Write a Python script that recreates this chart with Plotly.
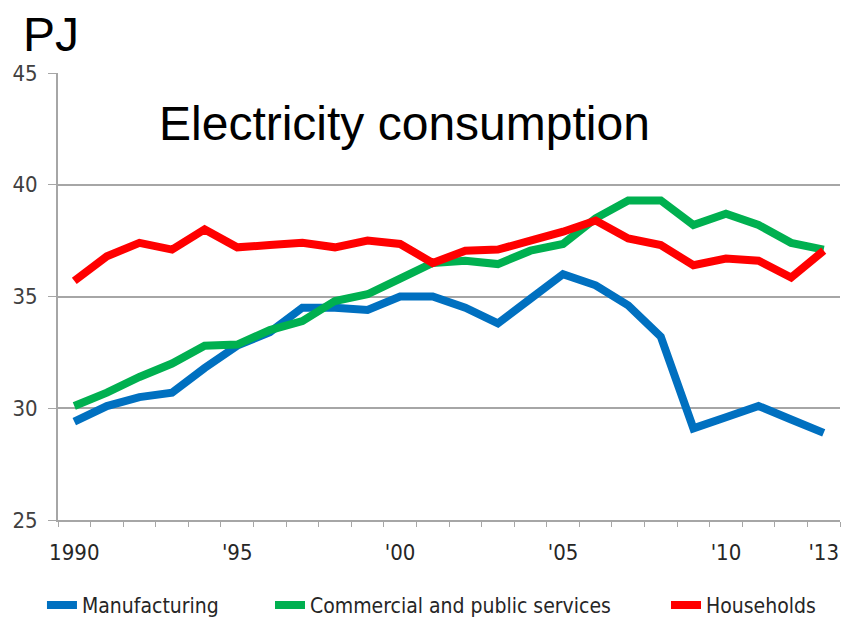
import plotly.graph_objects as go

years = list(range(1990, 2014))
manufacturing = [29.4, 30.1, 30.5, 30.7, 31.8, 32.8, 33.4, 34.5, 34.5, 34.4, 35.0, 35.0,
                 34.5, 33.8, 34.9, 36.0, 35.5, 34.6, 33.2, 29.1, 29.6, 30.1, 29.5, 28.9]
commercial = [30.1, 30.7, 31.4, 32.0, 32.8, 32.85, 33.5, 33.9, 34.8, 35.1, 35.8, 36.5,
              36.6, 36.45, 37.05, 37.35, 38.5, 39.3, 39.3, 38.2, 38.7, 38.2, 37.4, 37.1]
households = [35.7, 36.8, 37.4, 37.1, 38.0, 37.2, 37.3, 37.4, 37.2, 37.5, 37.35, 36.5,
              37.05, 37.1, 37.5, 37.9, 38.4, 37.6, 37.3, 36.4, 36.7, 36.6, 35.85, 37.05]

label_years = [1990, 1995, 2000, 2005, 2010, 2013]
label_text = ["1990", "'95", "'00", "'05", "'10", "'13"]
y_ticks = [25, 30, 35, 40, 45]

series = [
    ("Manufacturing", manufacturing, "#0070C0", "legend"),
    ("Commercial and public services", commercial, "#00B050", "legend2"),
    ("Households", households, "#FF0000", "legend3"),
]

condensed = "DejaVu Sans Condensed, Liberation Sans Narrow, Arial"
sans = "Liberation Sans, Arial"

fig = go.Figure()
for name, vals, color, leg in series:
    fig.add_trace(go.Scatter(
        x=years, y=vals, name=name, mode="lines",
        line=dict(color=color, width=8), legend=leg,
    ))

legend_font = dict(family=condensed, size=21, color="#262626")
legend_y = -0.145


def legend_at(x):
    return dict(orientation="h", x=x, xanchor="left", y=legend_y, yanchor="top",
                font=legend_font, itemwidth=30, bgcolor="rgba(0,0,0,0)")


fig.update_layout(
    width=843, height=617,
    margin=dict(l=58, r=3, t=73, b=97, autoexpand=False),
    plot_bgcolor="white", paper_bgcolor="white",
    showlegend=True,
    legend=legend_at(-0.0205),
    legend2=legend_at(0.2711),
    legend3=legend_at(0.7775),
    xaxis=dict(
        range=[years[0] - 0.5, years[-1] + 0.5],
        tickvals=label_years, ticktext=label_text,
        ticks="", showgrid=False, zeroline=False,
        showline=True, linecolor="#a6a6a6", linewidth=2,
        tickfont=dict(family=condensed, size=22, color="#262626"),
        ticklabelstandoff=12,
        minor=dict(
            tickvals=[y - 0.5 for y in years] + [years[-1] + 0.5],
            ticks="outside", ticklen=5, tickwidth=1, tickcolor="#a6a6a6",
            showgrid=False,
        ),
    ),
    yaxis=dict(
        range=[25, 45], tickvals=y_ticks,
        showgrid=True, gridcolor="#a6a6a6", gridwidth=2,
        zeroline=False, showline=True, linecolor="#a6a6a6", linewidth=2,
        ticks="outside", ticklen=8, tickcolor="#a6a6a6", tickwidth=1,
        tickfont=dict(family=condensed, size=22, color="#404040"),
        ticklabelstandoff=6,
    ),
    annotations=[
        dict(text="PJ", xref="paper", yref="paper", x=-0.047, y=1.087,
             xanchor="left", yanchor="middle", showarrow=False,
             font=dict(family=sans, size=48, color="black")),
        dict(text="Electricity consumption", xref="paper", yref="paper",
             x=(157 - 58) / 782, y=(520 - 123) / 447,
             xanchor="left", yanchor="middle", showarrow=False,
             font=dict(family=sans, size=48, color="black")),
    ],
)

fig.write_html("out.html")
